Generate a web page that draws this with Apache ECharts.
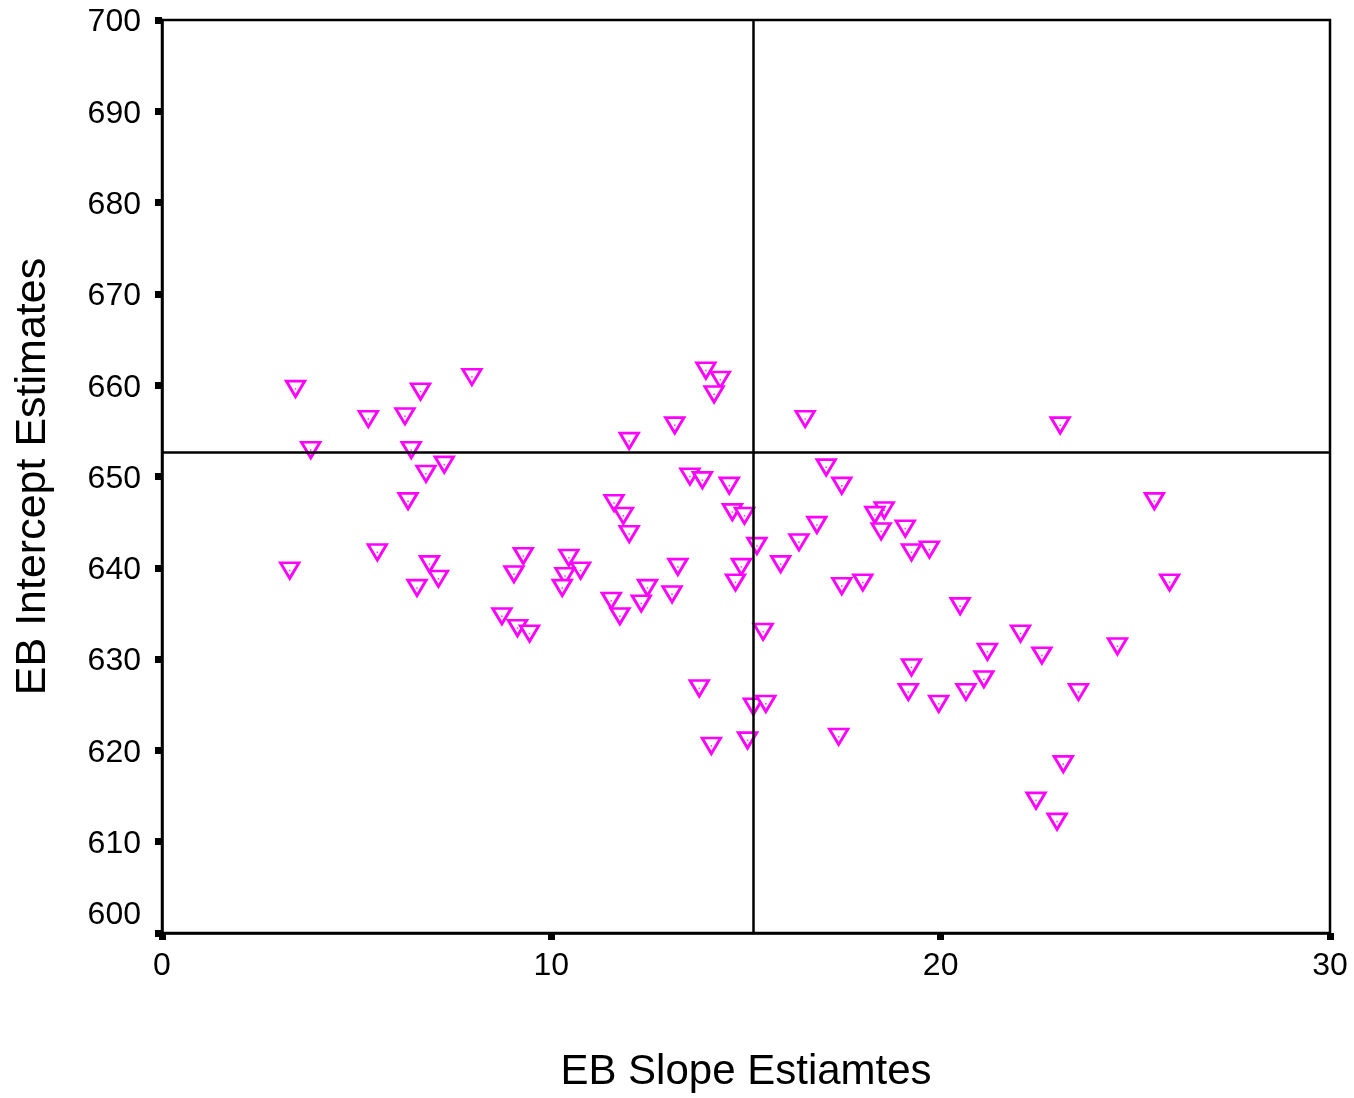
<!DOCTYPE html>
<html>
<head>
<meta charset="utf-8">
<script src="https://cdn.jsdelivr.net/npm/echarts@6/dist/echarts.min.js"></script>
<style>
html,body{margin:0;padding:0;background:#fff;}
#chart{width:1354px;height:1098px;}
</style>
</head>
<body>
<div id="chart"></div>
<script>
// EB slope estimates (x) and EB intercept estimates (y)
var slopeEstimates = [
  3.43, 7.96, 6.64, 5.30, 6.24, 3.82, 6.40, 7.25, 6.78, 6.32,
  5.53, 3.28, 6.87, 7.10, 6.55, 9.28, 9.04, 13.97, 14.34, 14.18,
  13.17, 12.00, 16.52, 13.56, 13.88, 14.57, 17.06, 11.61, 11.85, 12.00,
  14.65, 14.96, 16.82, 16.36, 15.28, 15.89, 10.45, 10.75, 10.35, 10.28,
  13.25, 14.88, 14.73, 12.47, 13.10, 11.54, 12.31, 11.76, 15.44, 13.80,
  15.19, 15.51, 15.04, 14.11, 8.73, 9.13, 9.44, 23.07, 17.46, 25.49,
  18.55, 18.31, 18.47, 19.09, 19.25, 19.71, 17.46, 18.00, 25.88, 20.50,
  22.05, 24.54, 21.20, 22.60, 19.25, 21.11, 19.17, 20.65, 23.54, 19.95,
  17.38, 23.15, 22.45, 22.99
];
var interceptEstimates = [
  659.6, 660.9, 659.3, 656.3, 656.6, 652.9, 652.9, 651.3, 650.3, 647.3,
  641.7, 639.7, 640.4, 638.8, 637.8, 641.3, 639.3, 661.6, 660.6, 659.0,
  655.6, 653.9, 656.3, 650.0, 649.6, 649.0, 651.0, 647.1, 645.7, 643.7,
  646.1, 645.7, 644.7, 642.8, 642.4, 640.4, 641.1, 639.7, 639.1, 637.8,
  640.1, 640.1, 638.4, 637.8, 637.1, 636.4, 636.1, 634.7, 633.0, 626.8,
  624.8, 625.1, 621.1, 620.5, 634.7, 633.4, 632.8, 655.6, 649.0, 647.3,
  646.3, 645.8, 644.0, 644.3, 641.7, 642.0, 638.0, 638.4, 638.4, 635.8,
  632.8, 631.4, 630.8, 630.4, 629.1, 627.8, 626.4, 626.4, 626.4, 625.1,
  621.5, 618.5, 614.5, 612.2
];
// Reference lines (means)
var slopeMean = 15.18;
var interceptMean = 652.7;

var xTitle = 'EB Slope Estiamtes';
var yTitle = 'EB Intercept Estimates';

var points = slopeEstimates.map(function(x, i){ return [x, interceptEstimates[i]]; });

var FONT = 'Liberation Sans, Arial, sans-serif';
var chart = echarts.init(document.getElementById('chart'));
chart.setOption({
  animation: false,
  backgroundColor: '#ffffff',
  grid: {
    left: 162, top: 20, width: 1168, height: 915,
    show: true, borderColor: '#000', borderWidth: 2.5, backgroundColor: 'transparent'
  },
  xAxis: {
    type: 'value', min: 0, max: 30, interval: 10,
    name: xTitle, nameLocation: 'middle', nameGap: 118,
    nameTextStyle: { fontFamily: FONT, fontSize: 42, color: '#000' },
    axisLine: { show: true, onZero: false, lineStyle: { color: '#000', width: 2.5 } },
    axisTick: { show: true, inside: false, length: 7, lineStyle: { color: '#000', width: 7 } },
    axisLabel: { fontFamily: FONT, fontSize: 32, color: '#000', margin: 17 },
    splitLine: { show: false }
  },
  yAxis: {
    type: 'value', min: 600, max: 700, interval: 10,
    name: yTitle, nameLocation: 'middle', nameGap: 107,
    nameTextStyle: { fontFamily: FONT, fontSize: 43, color: '#000' },
    axisLine: { show: true, onZero: false, lineStyle: { color: '#000', width: 2.5 } },
    axisTick: { show: true, inside: false, length: 7, lineStyle: { color: '#000', width: 7 } },
    axisLabel: {
      fontFamily: FONT, fontSize: 32, color: '#000', margin: 21,
      formatter: function(v){ return v === 600 ? '{low|' + v + '}' : '{n|' + v + '}'; },
      rich: {
        n: { fontFamily: FONT, fontSize: 32, color: '#000', padding: [5, 0, 0, 0] },
        low: { fontFamily: FONT, fontSize: 32, color: '#000', padding: [0, 0, 36, 0] }
      }
    },
    splitLine: { show: false }
  },
  series: [
    {
      type: 'scatter',
      data: points,
      symbol: 'triangle',
      symbolRotate: 180,
      symbolSize: [18.5, 15.5],
      itemStyle: { color: '#ffffff', borderColor: '#ff00ff', borderWidth: 2.8, opacity: 1 },
      markLine: {
        silent: true,
        symbol: ['none', 'none'],
        label: { show: false },
        lineStyle: { color: '#000', width: 2.5, type: 'solid' },
        data: [ { xAxis: slopeMean }, { yAxis: interceptMean } ]
      },
      z: 3
    },
    {
      type: 'scatter',
      data: points,
      symbol: 'rect',
      symbolSize: 1.5,
      itemStyle: { color: '#ff00ff' },
      silent: true,
      z: 4
    }
  ]
});
</script>
</body>
</html>
